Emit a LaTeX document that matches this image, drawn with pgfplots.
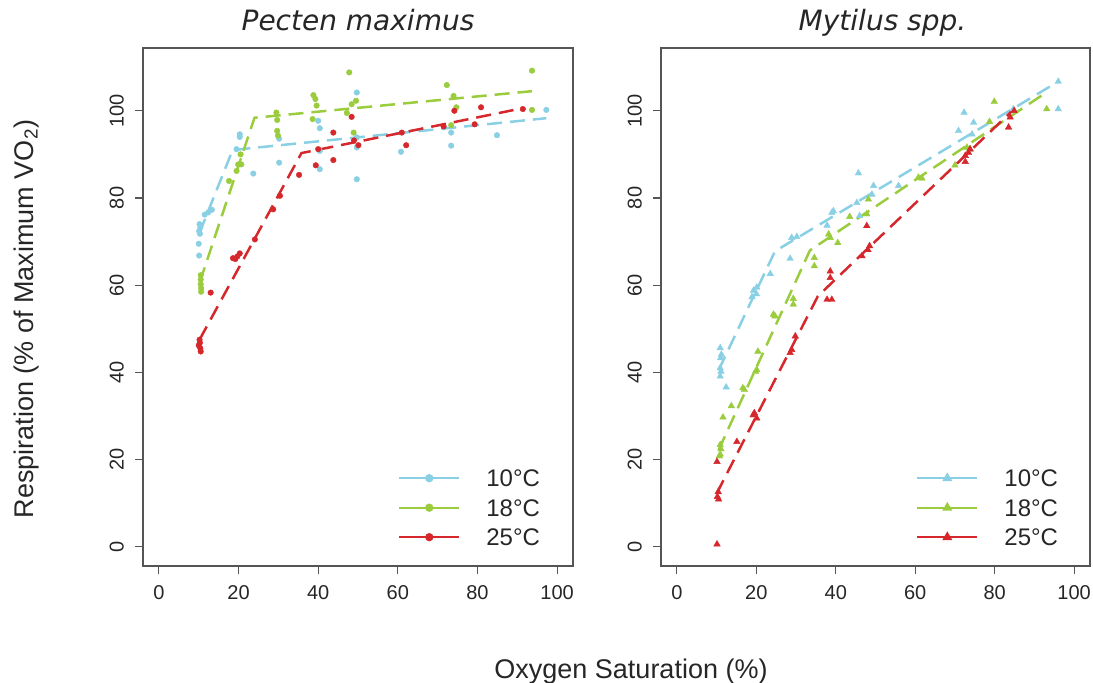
\documentclass[border=0pt]{standalone}
\usepackage{fontspec}
\setmainfont{Liberation Sans}
\newfontfamily\titlefont{DejaVu Sans}
\usepackage{pgfplots}
\pgfplotsset{compat=1.18}

\definecolor{cb}{RGB}{138,208,228}
\definecolor{cg}{RGB}{154,204,62}
\definecolor{cr}{RGB}{214,40,44}
\definecolor{ax}{RGB}{85,85,85}

\pgfplotsset{
 mystyle/.style={
  scale only axis, width=430bp, height=518bp,
  xmin=-4, xmax=104, ymin=-4.4, ymax=114.4,
  xtick={0,20,...,100}, ytick={0,20,...,100},
  tick align=outside, xtick pos=bottom, ytick pos=left,
  major tick length=8bp,
  axis line style={ax, line width=1.1bp},
  tick style={ax, line width=1.1bp},
  /pgf/number format/assume math mode=true,
  tick label style={font=\fontsize{20bp}{24bp}\selectfont, text=black!85},
  xticklabel style={anchor=north, inner sep=0pt},
  yticklabel style={rotate=90, anchor=south, inner sep=0pt},
  xticklabel shift=11bp, yticklabel shift=11bp,
  title style={font=\titlefont\itshape\fontsize{28bp}{31bp}\selectfont, at={(0.5,1)}, anchor=base, yshift=12bp, inner sep=0pt, text=black!85},
  legend style={draw=none, fill=none, inner sep=0pt, row sep=12.3bp,
    font=\fontsize{24bp}{28bp}\selectfont, text=black!85,
    nodes={inner sep=0pt, text height=17.2bp, text depth=0bp},
    cells={anchor=west}, at={(0.593,0.1865)}, anchor=north west},
  legend image code/.code={\draw[mark repeat=2,mark phase=2] plot coordinates {(0bp,0bp)(30bp,0bp)(60bp,0bp)}; \path (86bp,0bp);},
 },
 ln/.style={line width=2.5bp, dash pattern=on 15bp off 8bp, forget plot},
 ptc/.style={only marks, mark=*, mark size=2.8bp, forget plot},
 ptt/.style={only marks, mark=triangle*, mark size=3.8bp, forget plot},
}

\begin{document}
\begin{tikzpicture}

% ---------------- Pecten maximus ----------------
\begin{axis}[mystyle, at={(143bp,117bp)}, anchor=south west, title={Pecten maximus}]
\addplot[ptc, color=cb] coordinates {
(10.2,74.0)(10.4,73.2)(10.1,72.4)(10.3,71.8)(10.0,69.5)(10.1,66.8)(11.5,76.2)(12.4,76.7)(13.3,77.3)
(19.5,91.2)(20.3,94.6)(20.3,94.0)(23.7,85.6)(30.2,93.6)(30.2,88.1)(40.0,97.7)(40.4,96.0)(40.4,90.8)
(40.4,86.6)(49.7,104.2)(49.7,93.9)(49.7,91.6)(49.7,84.3)(60.8,90.6)(73.4,95.0)(73.4,92.0)(84.9,94.4)(97.3,100.2)};
\addplot[ptc, color=cg] coordinates {
(10.5,62.3)(10.5,61.3)(10.5,60.2)(10.6,59.3)(10.6,58.5)(17.6,83.9)(19.5,86.2)(19.9,87.7)(20.7,87.7)(20.5,90.0)
(29.5,99.6)(29.7,97.9)(29.7,95.4)(29.9,94.3)(38.8,103.6)(39.3,102.7)(39.6,101.2)(38.6,98.1)(47.8,108.8)
(48.4,101.5)(49.5,102.3)(47.2,99.5)(48.9,95.0)(72.3,105.9)(74.0,103.4)(74.7,100.8)(73.4,96.7)(93.7,109.2)(93.7,100.2)};
\addplot[ptc, color=cr] coordinates {
(10.2,47.5)(10.3,46.8)(10.0,46.2)(10.4,45.5)(10.5,44.8)(13.0,58.3)(18.6,66.2)(19.2,66.0)(19.7,66.6)(20.3,67.3)
(24.1,70.5)(28.7,77.4)(30.4,80.5)(35.2,85.3)(39.4,87.5)(40.0,91.2)(43.8,95.0)(43.8,88.7)(48.4,98.6)(50.1,92.1)
(49.0,93.2)(61.0,95.0)(62.1,92.1)(71.5,96.4)(74.2,100.0)(79.3,96.9)(80.9,100.8)(91.4,100.4)};
\addplot[ln, color=cb] coordinates {(10.2,72)(18.5,91)(97.3,98.3)};
\addplot[ln, color=cg] coordinates {(10.3,60.8)(24,98.4)(93.7,104.5)};
\addplot[ln, color=cr] coordinates {(10.2,47.5)(35.8,90.3)(91.4,100.6)};
\addlegendimage{cb, solid, line width=2.2bp, mark=*, mark size=3bp}
\addlegendentry{10°C}
\addlegendimage{cg, solid, line width=2.2bp, mark=*, mark size=3bp}
\addlegendentry{18°C}
\addlegendimage{cr, solid, line width=2.2bp, mark=*, mark size=3bp}
\addlegendentry{25°C}
\end{axis}

% ---------------- Mytilus spp. ----------------
\begin{axis}[mystyle, width=429bp, at={(661bp,117bp)}, anchor=south west, title={Mytilus spp.},
  title style={xshift=7bp},
  legend style={at={(0.5944,0.1865)}}]
\addplot[ptt, color=cb] coordinates {
(10.9,45.6)(11.2,44.1)(11.0,43.3)(10.9,41.0)(11.1,40.2)(10.9,39.1)(12.4,36.6)(18.9,57.3)(19.3,58.8)(20.1,59.5)
(20.0,58.0)(23.5,62.6)(28.5,66.1)(28.9,70.9)(30.2,71.1)(37.8,73.7)(39.0,76.6)(39.4,77.0)(45.3,78.9)(46.0,75.9)
(45.7,85.7)(49.1,80.8)(49.5,82.8)(55.8,82.8)(70.9,95.4)(72.3,99.6)(74.3,94.6)(74.7,97.3)(84.7,100.4)
(96.0,106.7)(96.0,100.4)};
\addplot[ptt, color=cg] coordinates {
(10.9,23.4)(11.1,22.4)(10.9,21.2)(10.7,20.8)(11.6,29.7)(13.7,32.3)(16.6,36.4)(17.0,36.0)(20.1,40.6)(19.8,40.2)
(20.4,44.8)(24.3,53.3)(24.7,52.9)(29.3,56.9)(29.3,55.6)(34.6,66.3)(34.6,64.4)(38.2,71.7)(38.6,70.9)(40.5,69.7)
(43.5,75.7)(48.2,79.7)(47.8,76.3)(60.8,84.7)(61.7,84.5)(70.0,87.5)(73.0,91.6)(73.8,91.2)(78.7,97.5)(79.9,102.1)(93.1,100.4)};
\addplot[ptt, color=cr] coordinates {
(10.1,0.6)(10.1,19.5)(10.4,12.6)(10.2,11.5)(10.5,10.9)(15.1,24.1)(19.5,30.7)(20.1,29.5)(19.2,30.2)(28.9,45.2)
(28.5,44.5)(29.8,48.3)(37.8,56.7)(39.0,56.7)(38.6,63.2)(38.6,61.7)(46.6,66.7)(48.1,68.1)(48.5,69.0)(47.8,73.6)
(72.6,88.3)(72.6,89.7)(73.8,91.2)(73.4,90.4)(83.5,96.2)(83.9,98.5)(84.9,100.0)};
\addplot[ln, color=cb] coordinates {(10.5,40.5)(24.7,67.8)(96,106.7)};
\addplot[ln, color=cg] coordinates {(10.5,22.2)(33.5,68)(92,103.6)};
\addplot[ln, color=cr] coordinates {(10,12.2)(35.5,57.5)(85,100.5)};
\addlegendimage{cb, solid, line width=2.2bp, mark=triangle*, mark size=3.6bp}
\addlegendentry{10°C}
\addlegendimage{cg, solid, line width=2.2bp, mark=triangle*, mark size=3.6bp}
\addlegendentry{18°C}
\addlegendimage{cr, solid, line width=2.2bp, mark=triangle*, mark size=3.6bp}
\addlegendentry{25°C}
\end{axis}

\node[rotate=90, anchor=base, font=\fontsize{27bp}{30bp}\selectfont, text=black!85] at (33bp,364bp)
  {Respiration (\% of Maximum VO\textsubscript{2})};
\node[anchor=base, font=\fontsize{27bp}{30bp}\selectfont, text=black!85] at (631bp,5bp)
  {Oxygen Saturation (\%)};

\pgfresetboundingbox
\useasboundingbox (0,0) rectangle (1093bp,683bp);
\end{tikzpicture}
\end{document}
